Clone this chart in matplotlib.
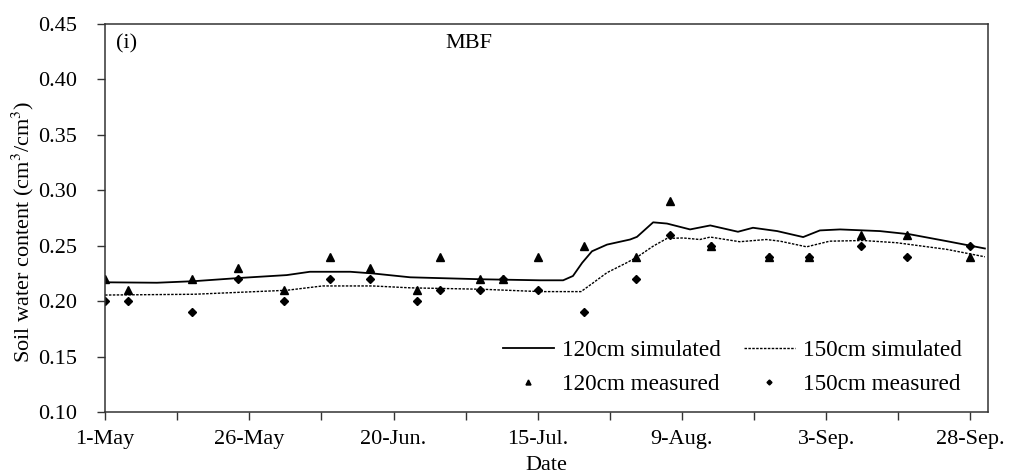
import numpy as np
import matplotlib
matplotlib.use("Agg")
import matplotlib.pyplot as plt
from matplotlib.ticker import MultipleLocator, FormatStrFormatter

plt.rcParams['font.family'] = ['Liberation Serif', 'DejaVu Serif']
plt.rcParams['mathtext.fontset'] = 'stix'

# days counted from 1 May
sim_days_120 = [0, 9, 15.4, 23.6, 31.5, 35.5, 42.5, 46.4, 52.9, 65.5, 75.4, 79.4, 81.1, 82.7,
                84.4, 87, 91, 92.2, 95, 97.4, 101.4, 104.9, 109.7, 112.3, 116.5, 121,
                123.9, 127.4, 134.3, 139.5, 145.9, 152.5]
sim_120 = [0.217, 0.2166, 0.218, 0.221, 0.2235, 0.2265, 0.2265, 0.225, 0.2215, 0.2197, 0.2188,
           0.2188, 0.2227, 0.2346, 0.245, 0.251, 0.2556, 0.258, 0.2711, 0.270, 0.2647, 0.2683,
           0.2626, 0.2662, 0.2632, 0.2578, 0.2638, 0.2647, 0.2632, 0.2603, 0.2541, 0.2475]

sim_days_150 = [0, 15.4, 31.5, 37.7, 46.4, 52.9, 65.5, 75.4, 82.5, 84.6, 87, 90.4, 92.3, 95,
                97.4, 100.2, 103.1, 104.9, 110, 114.6, 117, 121.6, 125.6, 131.4, 137.2,
                145.9, 152.5]
sim_150 = [0.2055, 0.2062, 0.2098, 0.2137, 0.2137, 0.212, 0.2107, 0.2086, 0.2086, 0.2165,
           0.2257, 0.2346, 0.240, 0.2496, 0.2566, 0.257, 0.2556, 0.2578, 0.2536, 0.2556,
           0.2541, 0.249, 0.2541, 0.2547, 0.2527, 0.2467, 0.240]

meas_days = [0, 4, 15, 23, 31, 39, 46, 54, 58, 65, 69, 75, 83, 92, 98, 105, 115, 122, 131, 139, 150]
meas_120 = [0.22, 0.21, 0.22, 0.23, 0.21, 0.24, 0.23, 0.21, 0.24, 0.22, 0.22, 0.24, 0.25, 0.24,
            0.29, 0.25, 0.24, 0.24, 0.26, 0.26, 0.24]
meas_150 = [0.20, 0.20, 0.19, 0.22, 0.20, 0.22, 0.22, 0.20, 0.21, 0.21, 0.22, 0.21, 0.19, 0.22,
            0.26, 0.25, 0.24, 0.24, 0.25, 0.24, 0.25]

tick_days = [0, 25, 50, 75, 100, 125, 150]
tick_labels = ['1-May', '26-May', '20-Jun.', '15-Jul.', '9-Aug.', '3-Sep.', '28-Sep.']

fig = plt.figure(figsize=(10.1, 4.76), dpi=100)
ax = fig.add_axes([0.104, 0.1345, 0.874, 0.815])

l1, = ax.plot(sim_days_120, sim_120, color='black', lw=1.3, label='120cm simulated')
l2, = ax.plot(sim_days_150, sim_150, color='black', lw=1.0, dashes=(1.8, 1),
              label='150cm simulated')
m1, = ax.plot(meas_days, meas_120, ls='none', marker='^', ms=6, color='black',
              label='120cm measured')
m2, = ax.plot(meas_days, meas_150, ls='none', marker='D', ms=4.2, color='black',
              label='150cm measured')

ax.set_xlim(0, 153)
ax.set_ylim(0.10, 0.45)
ax.set_xticks(tick_days)
ax.set_xticklabels(tick_labels)
ax.xaxis.set_minor_locator(MultipleLocator(12.5))
ax.set_yticks(np.arange(0.10, 0.451, 0.05))
ax.yaxis.set_major_formatter(FormatStrFormatter('%.2f'))
ax.tick_params(which='both', direction='out', length=6, width=1, labelsize=16, color='#333333')
ax.tick_params(axis='x', pad=7)
ax.tick_params(axis='y', pad=14)

for sp in ax.spines.values():
    sp.set_color('#333333')
    sp.set_linewidth(1.1)

ax.set_ylabel('Soil water content (cm$^3$/cm$^3$)', fontsize=16)
ax.yaxis.set_label_coords(-0.078, 0.464)
ax.set_xlabel('Date', fontsize=16, labelpad=5)

ax.text(0.012, 0.95, '(i)', transform=ax.transAxes, fontsize=16, va='center', ha='left')
ax.text(0.412, 0.95, 'MBF', transform=ax.transAxes, fontsize=16, va='center', ha='center')

ax.legend([l1, m1, l2, m2],
          ['120cm simulated', '120cm measured', '150cm simulated', '150cm measured'],
          ncol=2, loc='lower right', bbox_to_anchor=(0.9706, 0.044), frameon=False,
          fontsize=16.7, handlelength=2.2, columnspacing=1.0, labelspacing=0.55,
          handletextpad=0.35, borderpad=0, borderaxespad=0, markerscale=0.6)

fig.savefig('out.png', dpi=100)
